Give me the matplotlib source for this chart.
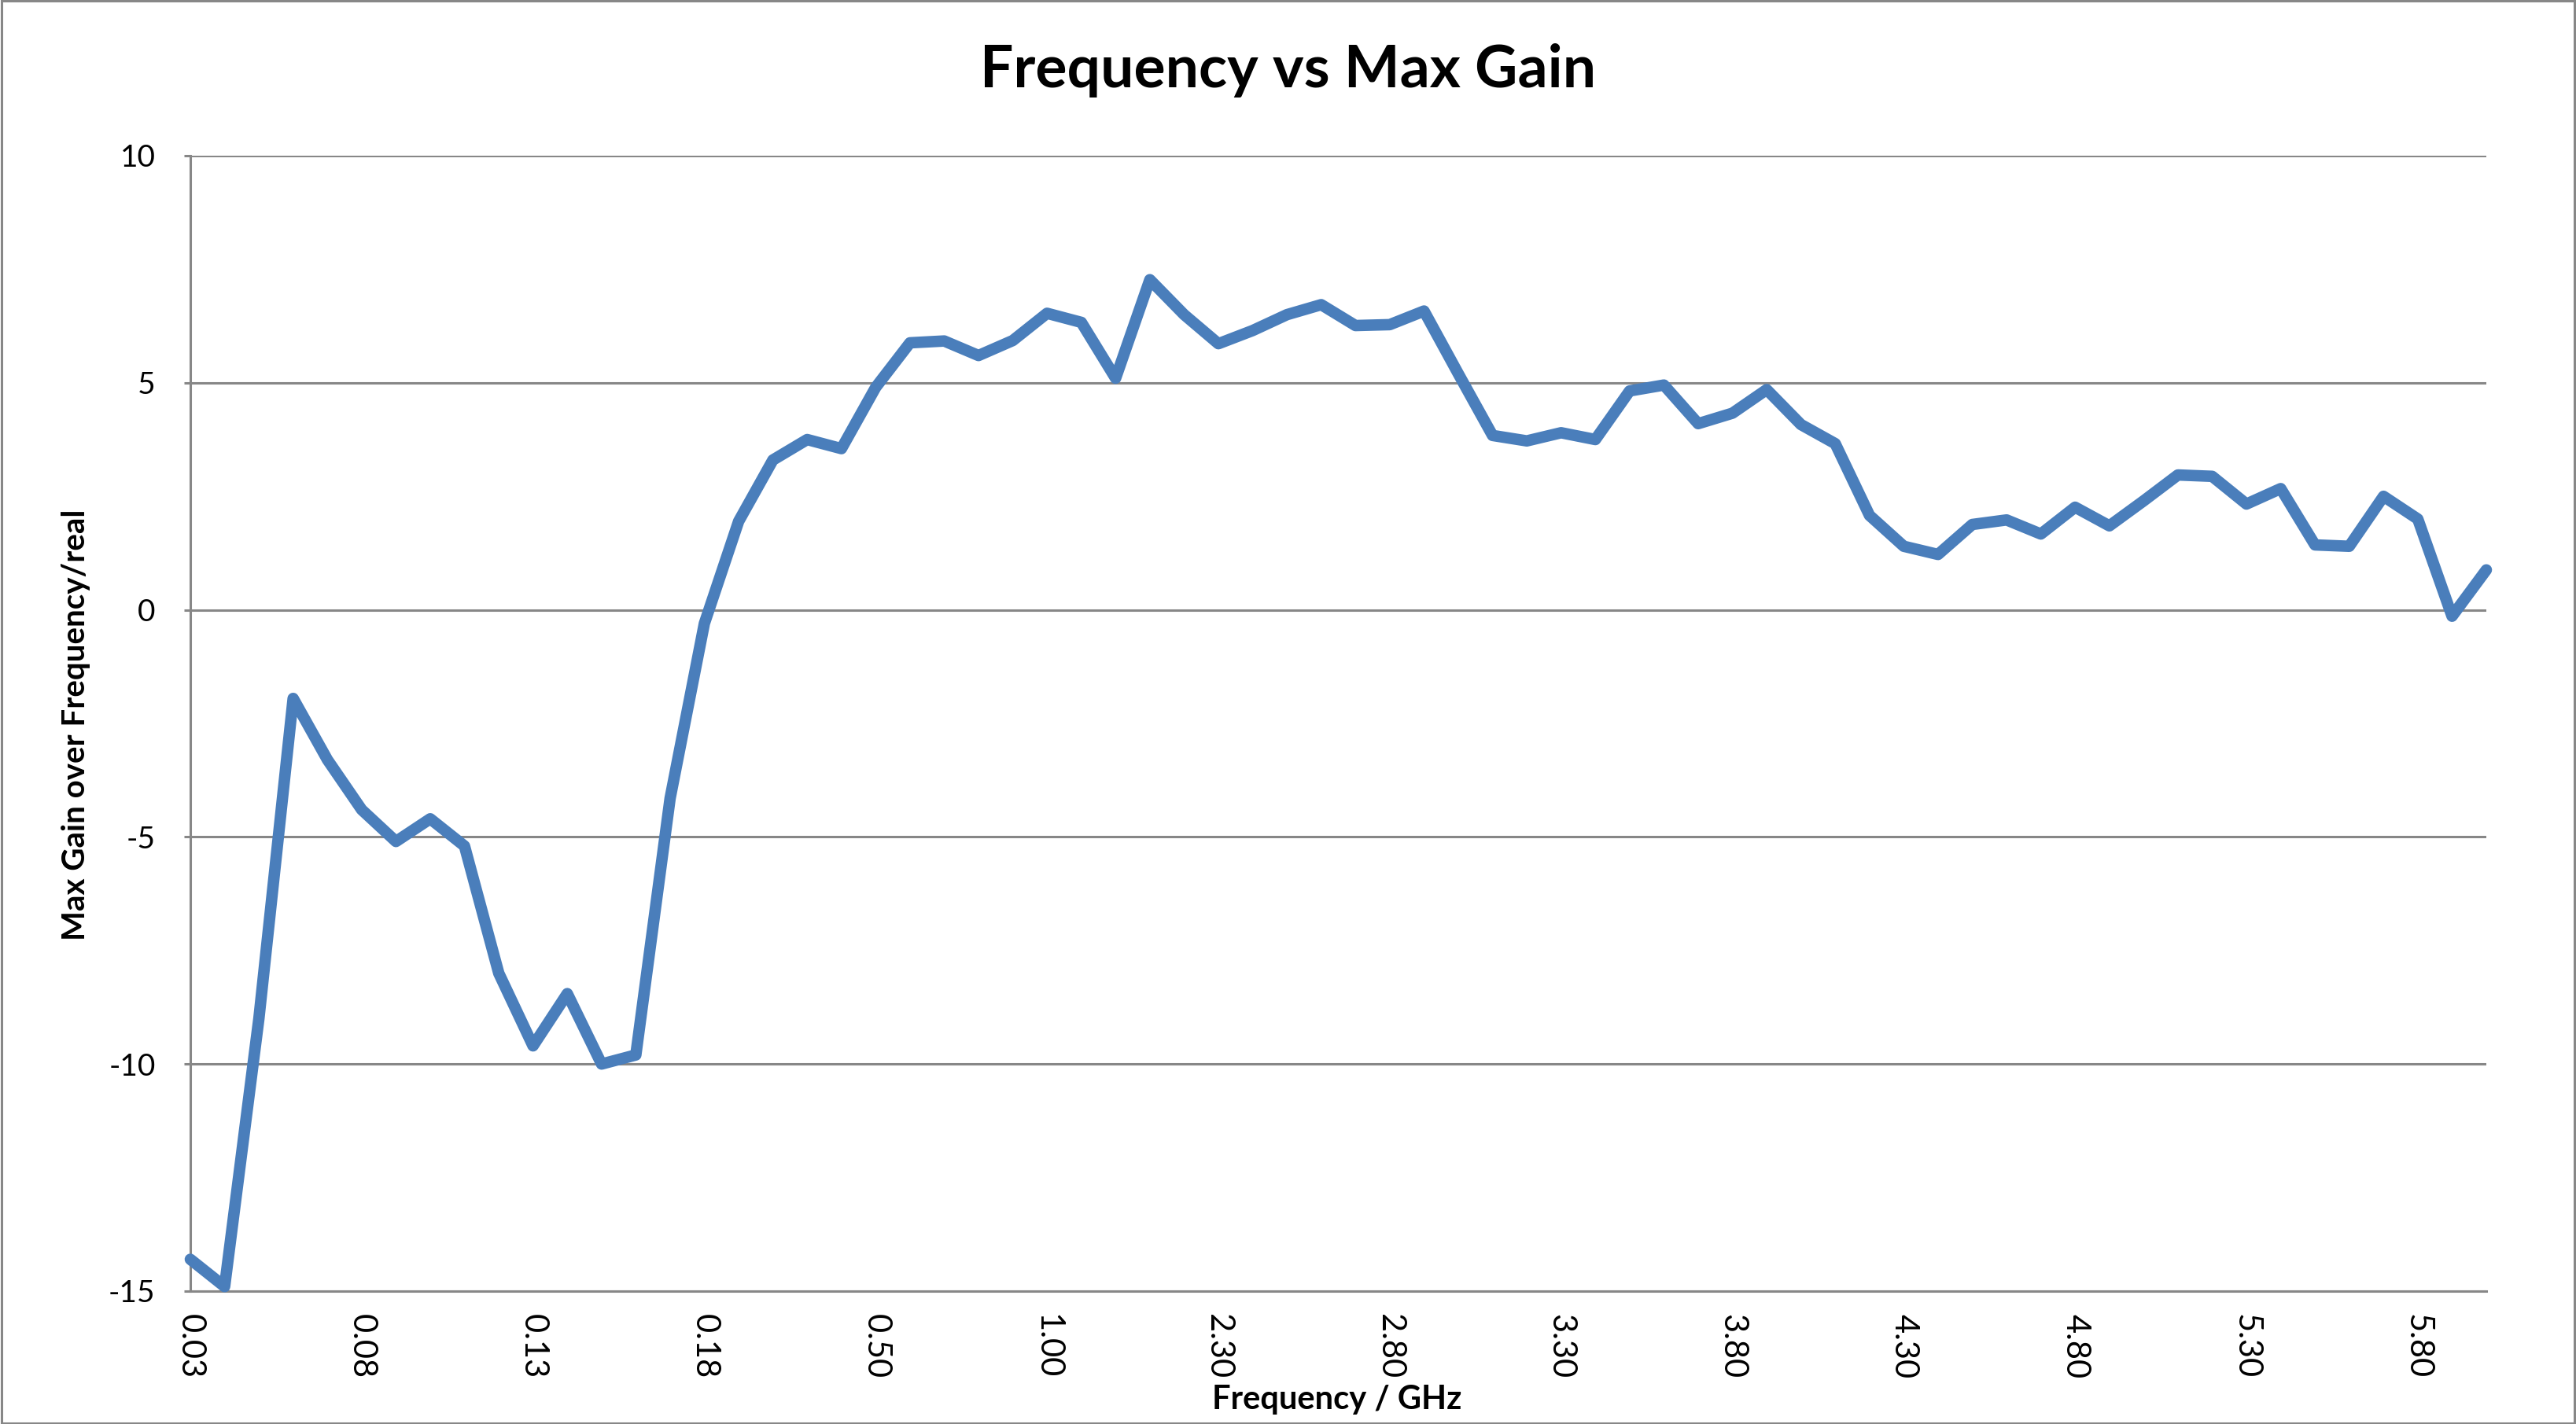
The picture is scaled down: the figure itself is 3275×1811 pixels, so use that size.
import numpy as np
import matplotlib
matplotlib.use("Agg")
import matplotlib.pyplot as plt
from matplotlib.patches import Rectangle

# valores (una muestra por categoria)
gain = [-14.3, -14.9, -9.0, -1.95, -3.3, -4.4, -5.1, -4.6, -5.2, -8.0,
        -9.6, -8.45, -10.0, -9.8, -4.15, -0.3, 1.95, 3.3, 3.75, 3.55,
        4.9, 5.88, 5.92, 5.6, 5.93, 6.53, 6.33, 5.1, 7.27, 6.5,
        5.86, 6.15, 6.5, 6.72, 6.26, 6.28, 6.58, 5.2, 3.84, 3.72,
        3.9, 3.75, 4.82, 4.95, 4.1, 4.33, 4.85, 4.08, 3.66, 2.08,
        1.4, 1.22, 1.88, 1.98, 1.67, 2.26, 1.85, 2.4, 2.97, 2.94,
        2.33, 2.67, 1.43, 1.4, 2.5, 2.0, -0.14, 0.88]

tick_labels = ['0.03', '0.08', '0.13', '0.18', '0.50', '1.00', '2.30',
               '2.80', '3.30', '3.80', '4.30', '4.80', '5.30', '5.80']
label_step = 5

y_ticks = [-15, -10, -5, 0, 5, 10]

grid_col = '#878787'
line_col = '#4a7ebb'
font = 'Lato'

fig = plt.figure(figsize=(32.75, 18.11), dpi=100)
ax = fig.add_axes([242 / 3275, 1 - 1642 / 1811, (3161 - 242) / 3275, (1642 - 198) / 1811])

x = np.arange(len(gain))
ax.plot(x, gain, color=line_col, lw=10.5, solid_joinstyle='round', solid_capstyle='round',
        zorder=3, clip_on=False)

ax.set_xlim(0, len(gain) - 1)
ax.set_ylim(-15, 10)
ax.set_yticks(y_ticks)
ax.set_yticklabels([str(v) for v in y_ticks], fontsize=28, family=font)
ax.set_xticks(x[::label_step][:len(tick_labels)])
ax.set_xticklabels(tick_labels, rotation=-90, fontsize=30, family=font, va='top', ha='center')

ax.grid(axis='y', color=grid_col, lw=2.2)
ax.set_axisbelow(True)
ax.tick_params(axis='y', length=6, width=2.2, color=grid_col, pad=26)
ax.tick_params(axis='x', length=0, pad=21)

for side in ['top', 'right']:
    ax.spines[side].set_visible(False)
for side in ['left', 'bottom']:
    ax.spines[side].set_color(grid_col)
    ax.spines[side].set_linewidth(2.2)

# titulo y etiquetas de ejes
fig.text(1638 / 3275, 1 - 89 / 1811, 'Frequency vs Max Gain', fontsize=54, fontweight='bold',
         family=font, ha='center', va='center')
fig.text(1700 / 3275, 1 - 1780 / 1811, 'Frequency / GHz', fontsize=30, fontweight='bold',
         family=font, ha='center', va='center')
fig.text(97 / 3275, 1 - 922 / 1811, 'Max Gain over Frequency/real', fontsize=29, fontweight='bold',
         family=font, ha='center', va='center', rotation=90)

# borde del area del grafico
fig.patches.append(Rectangle((0.0005, 0.0008), 0.999, 0.9985, transform=fig.transFigure,
                             fill=False, edgecolor=grid_col, lw=2.2))

fig.savefig('out.png', dpi=100, facecolor='white')
